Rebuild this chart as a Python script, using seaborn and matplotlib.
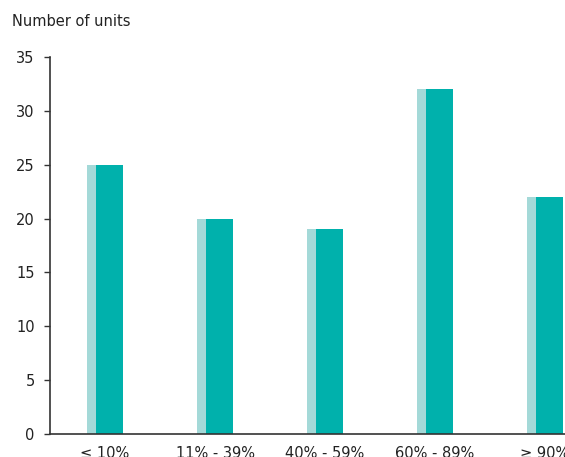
import matplotlib
matplotlib.use("Agg")
import matplotlib.pyplot as plt
import seaborn as sns
import pandas as pd

categories = ["≤ 10%", "11% - 39%", "40% - 59%", "60% - 89%", "≥ 90%"]
values = [25, 20, 19, 32, 22]
y_ticks = [0, 5, 10, 15, 20, 25, 30, 35]

light = "#A4D9D8"
dark = "#00B1AC"

sns.set_theme(style="white")
plt.rcParams["font.family"] = ["DejaVu Sans"]

df = pd.DataFrame({"cat": categories, "val": values})

fig = plt.figure(figsize=(5.65, 4.57), dpi=100)
ax = fig.add_axes([50 / 565, 23 / 457, 550 / 565, 377 / 457])

full_w = 0.327
dark_w = 0.245
sns.barplot(data=df, x="cat", y="val", color=light, width=full_w, ax=ax,
            saturation=1, linewidth=0)
n_before = len(ax.patches)
sns.barplot(data=df, x="cat", y="val", color=dark, width=dark_w, ax=ax,
            saturation=1, linewidth=0)
for p in ax.patches[n_before:]:
    p.set_x(p.get_x() + (full_w - dark_w) / 2)

ax.set_xlim(-0.5, 4.5)
ax.set_ylim(0, 35)
ax.set_yticks(y_ticks)
ax.set_xlabel("")
ax.set_ylabel("")
for s in ["top", "right"]:
    ax.spines[s].set_visible(False)
for s in ["left", "bottom"]:
    ax.spines[s].set_color("#333333")
    ax.spines[s].set_linewidth(1.2)
ax.tick_params(axis="y", which="both", left=True, length=4, width=1,
               color="#333333", pad=7, labelsize=10.5, labelcolor="#222222")
ax.tick_params(axis="x", length=0, pad=9, labelsize=10.5, labelcolor="#222222")

fig.text(12 / 565, 1 - 21 / 457, "Number of units", fontsize=10.5,
         color="#222222", va="center", ha="left")

fig.savefig("out.png", dpi=100)
